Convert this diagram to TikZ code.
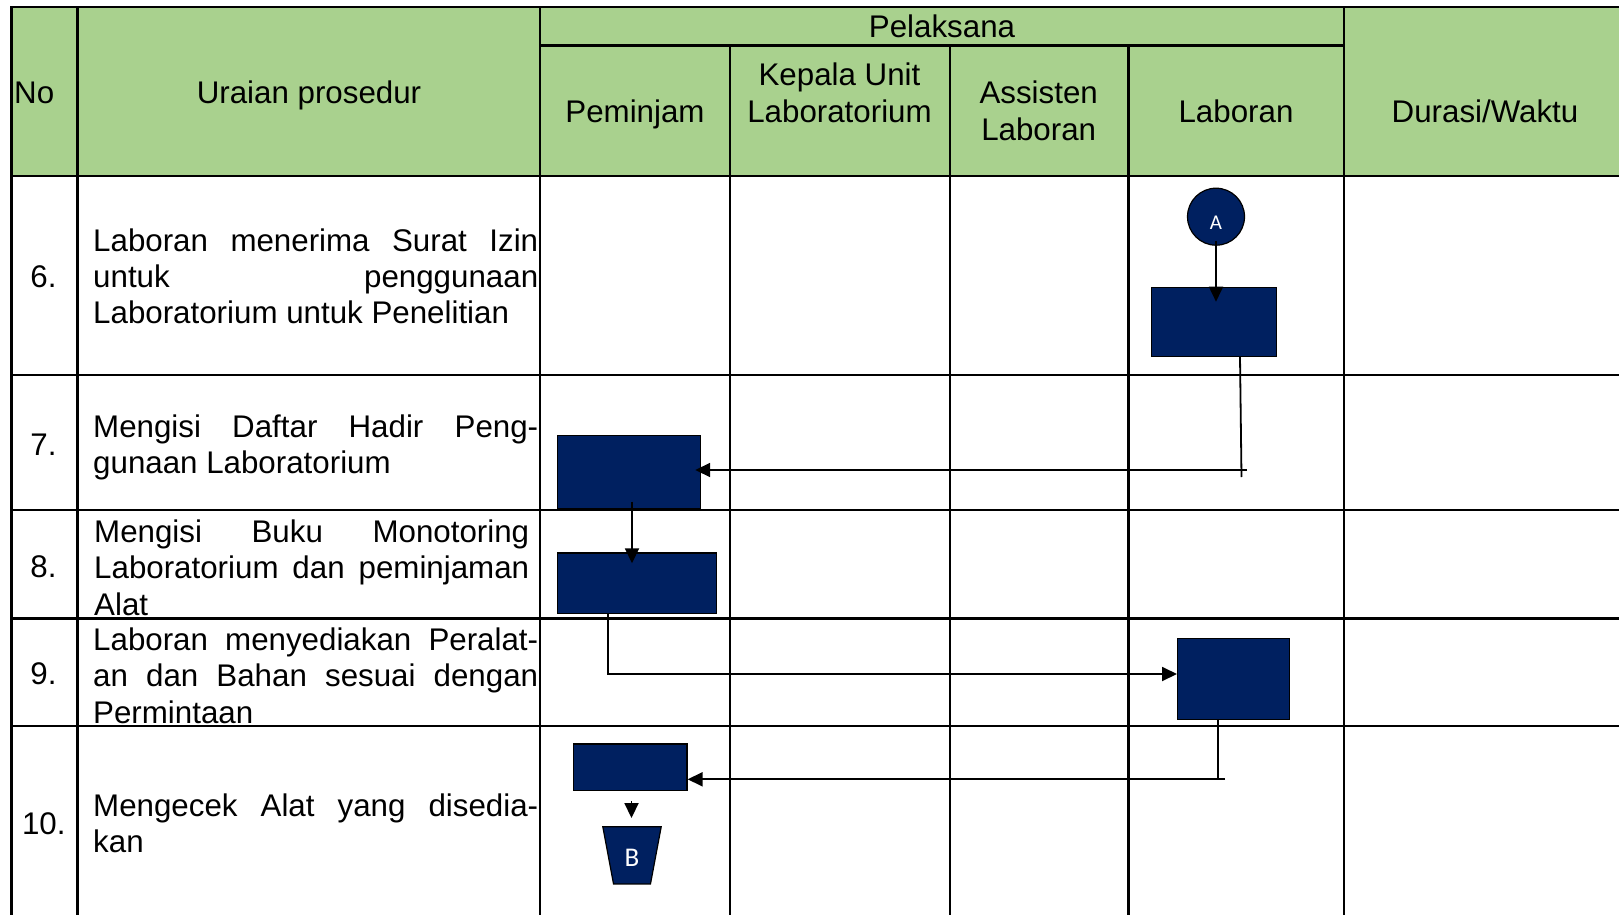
\documentclass[tikz,border=0pt]{standalone}
\usepackage{fontspec}
\setmainfont{Liberation Sans}
\newfontfamily\markfont{Carlito}
\usetikzlibrary{arrows.meta,calc,shapes.geometric}
\definecolor{headgreen}{HTML}{A9D18E}
\definecolor{navy}{HTML}{002060}

\tikzset{
  grid/.style={line width=2.2pt, line cap=rect},
  txt/.style={inner sep=0pt, font=\fontsize{31.3}{36}\selectfont},
  head/.style={txt, anchor=base},
  body/.style={txt, anchor=base west},
  num/.style={txt, anchor=base},
  proc/.style={draw=black, line width=1.2pt, fill=navy, inner sep=0pt, anchor=north west},
  flow/.style={line width=1.8pt},
  arr/.style={flow, -{Triangle[length=15pt,width=14pt]}},
}
\newcommand{\jline}[2]{\makebox[#1][s]{#2}}

\begin{document}
\begin{tikzpicture}[x=1pt,y=-1pt]
\useasboundingbox (0,0) rectangle (1619,915);

% header band
\fill[headgreen] (11.4,7) rectangle (1619,176);

% table rules
\foreach \y in {7,176,375,510,618.5,726}
  \draw[grid] (11.4,\y) -- (1619,\y);
\draw[grid] (540,45.5) -- (1344,45.5);
\foreach \x in {11.4,77.5,540,1344}
  \draw[grid] (\x,7) -- (\x,915);
\foreach \x in {730,950,1128.5}
  \draw[grid] (\x,45.5) -- (\x,915);

% header texts
\node[txt, anchor=base west] (hNo) at (14,103.5) {No};
\node[head] (hUr) at (309,103.5) {Uraian prosedur};
\node[head] (hPel) at (942,38) {Pelaksana};
\node[head] (hPem) at (635,122.5) {Peminjam};
\node[head] (hKa1) at (839.5,86) {Kepala Unit};
\node[head] (hKa2) at (839.5,122.5) {Laboratorium};
\node[head] (hAs1) at (1038.7,104) {Assisten};
\node[head] (hAs2) at (1038.7,141) {Laboran};
\node[head] (hLab) at (1236,122.5) {Laboran};
\node[head] (hDur) at (1485,122.5) {Durasi/Waktu};

% step numbers
\node[num] (n6) at (43.4,287) {6.};
\node[num] (n7) at (43.4,455) {7.};
\node[num] (n8) at (43.4,577) {8.};
\node[num] (n9) at (43.4,684.5) {9.};
\node[num] (n10) at (43.8,834) {10.};

% step descriptions
\node[body] (d6a) at (93,251) {\jline{445pt}{Laboran menerima Surat Izin}};
\node[body] (d6b) at (93,287) {\jline{445pt}{untuk penggunaan}};
\node[body] (d6c) at (93,323) {Laboratorium untuk Penelitian};

\node[body] (d7a) at (93,437) {\jline{445pt}{Mengisi Daftar Hadir Peng-}};
\node[body] (d7b) at (93,473) {gunaan Laboratorium};

\node[body] (d8a) at (94,542) {\jline{435pt}{Mengisi Buku Monotoring}};
\node[body] (d8b) at (94,578.5) {\jline{435pt}{Laboratorium dan peminjaman}};
\node[body] (d8c) at (94,615) {Alat};

\node[body] (d9a) at (93,650) {\jline{445pt}{Laboran menyediakan Peralat-}};
\node[body] (d9b) at (93,686.5) {\jline{445pt}{an dan Bahan sesuai dengan}};
\node[body] (d9c) at (93,723) {Permintaan};

\node[body] (d10a) at (93,816) {\jline{445pt}{Mengecek Alat yang disedia-}};
\node[body] (d10b) at (93,852) {kan};

% flow symbols
\node[circle, draw=black, line width=1.2pt, fill=navy, minimum size=57pt, inner sep=0pt,
      text=white, text height=26pt, text depth=0pt,
      font=\markfont\fontsize{21}{21}\selectfont] (cA) at (1216,216.7) {A};
\node[proc, minimum width=125pt, minimum height=69pt] (r6) at (1151,286.7) {};
\node[proc, minimum width=143.3pt, minimum height=73.3pt] (r7) at (556.7,435) {};
\node[proc, minimum width=159.3pt, minimum height=60.4pt] (r8) at (556.7,552.3) {};
\node[proc, minimum width=111.6pt, minimum height=80.6pt] (r9) at (1177,638) {};
\node[proc, minimum width=113.8pt, minimum height=46.7pt] (r10) at (572.6,743.3) {};
\node[trapezium, trapezium angle=79, shape border rotate=180, trapezium stretches=true,
      minimum width=58.5pt, minimum height=57.3pt, inner sep=0pt,
      draw=black, line width=1.2pt, fill=navy, text=white, text height=22pt, text depth=0pt,
      font=\markfont\fontsize{27}{27}\selectfont] (tB) at (632,855.3) {B};

% connectors
\draw[arr, shorten <=-5pt, shorten >=-15pt] (cA.south) -- (cA.south |- r6.north);

\coordinate (k67) at (1240,470);
\draw[flow] (r6.south -| k67) -- ($(k67)+(1.5,7)$);
\draw[arr, shorten >=-6pt] ($(k67)+(7,0)$) -- (k67 -| r7.east);

\coordinate (x78) at (632,0);
\draw[arr, shorten <=-8pt, shorten >=-11pt] (x78 |- r7.south) -- (x78 |- r8.north);

\coordinate (k89) at (608,674);
\draw[arr] (r8.south -| k89) -- (k89) -- (k89 -| r9.west);

\coordinate (k910) at (1218,779.3);
\draw[flow] (r9.south -| k910) -- (k910);
\draw[arr] ($(k910)+(7,0)$) -- (k910 -| r10.east);

\coordinate (x10) at (631.5,0);
\draw[arr, shorten <=10pt, shorten >=8pt] (x10 |- r10.south) -- (x10 |- tB.north);
\end{tikzpicture}
\end{document}
